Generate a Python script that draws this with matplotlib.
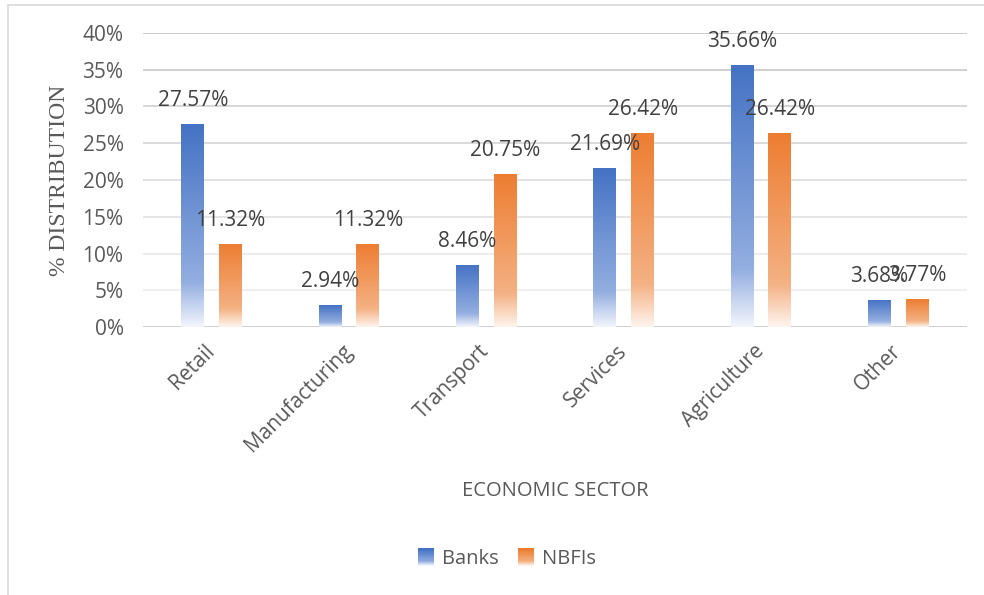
import numpy as np
import matplotlib
matplotlib.use('Agg')
import matplotlib.pyplot as plt
from matplotlib.colors import LinearSegmentedColormap
from matplotlib.patches import Rectangle
from matplotlib.legend_handler import HandlerBase

sectors = ['Retail', 'Manufacturing', 'Transport', 'Services', 'Agriculture', 'Other']
banks = [27.57, 2.94, 8.46, 21.69, 35.66, 3.68]
nbfis = [11.32, 11.32, 20.75, 26.42, 26.42, 3.77]
y_ticks = [0, 5, 10, 15, 20, 25, 30, 35, 40]

plt.rcParams['font.family'] = ['Open Sans', 'DejaVu Sans']

# bottom -> top colour stops for the faded bars
blue_cmap = LinearSegmentedColormap.from_list(
    'blue_fade', [(0.0, '#f2f5fc'), (0.22, '#93aee0'), (1.0, '#4472c4')])
orange_cmap = LinearSegmentedColormap.from_list(
    'orange_fade', [(0.0, '#fef4ee'), (0.22, '#f4b183'), (1.0, '#ed7d31')])


def fade_bars(ax, bars, cmap):
    grad = np.linspace(0, 1, 256).reshape(-1, 1)
    for b in bars:
        x0, y0 = b.get_x(), b.get_y()
        w, h = b.get_width(), b.get_height()
        im = ax.imshow(grad, cmap=cmap, origin='lower', aspect='auto',
                       extent=[x0, x0 + w, y0, y0 + h], zorder=3)
        im.set_clip_path(b)


class FadeHandler(HandlerBase):
    def __init__(self, cmap):
        super().__init__()
        self.cmap = cmap

    def create_artists(self, legend, orig_handle, xdescent, ydescent,
                       width, height, fontsize, trans):
        n = 20
        side = height
        x0 = -xdescent + (width - side) / 2
        strips = []
        for i in range(n):
            c = self.cmap(i / (n - 1))
            r = Rectangle((x0, -ydescent + side * i / n), side, side / n + 0.3,
                          facecolor=c, edgecolor='none', transform=trans)
            strips.append(r)
        return strips


fig = plt.figure(figsize=(9.84, 5.95), dpi=100)

# light frame around the chart area
fig.patches.append(Rectangle((8 / 984, -0.1), 1.2, 1 - 5 / 595 + 0.1,
                             transform=fig.transFigure, fill=False,
                             edgecolor='#d9d9d9', linewidth=1.2))

ax = fig.add_axes([143 / 984, 1 - 327 / 595, 824 / 984, 294 / 595])

x = np.arange(len(sectors))
bw = 0.167
off = 0.138

b1 = ax.bar(x - off, banks, bw, facecolor='none', edgecolor='none', zorder=3)
b2 = ax.bar(x + off, nbfis, bw, facecolor='none', edgecolor='none', zorder=3)
fade_bars(ax, b1, blue_cmap)
fade_bars(ax, b2, orange_cmap)

for bars, vals in [(b1, banks), (b2, nbfis)]:
    for b, v in zip(bars, vals):
        ax.annotate(f'{v:.2f}%', (b.get_x() + b.get_width() / 2, v),
                    xytext=(0, 18), textcoords='offset pixels',
                    ha='center', va='baseline', fontsize=15, color='#404040',
                    zorder=5)

ax.set_xlim(-0.5, len(sectors) - 0.5)
ax.set_ylim(0, 40)

# horizontal gridlines, darker towards the top
for i, t in enumerate(y_ticks):
    if t == 0:
        col = '#cccccc'
    else:
        k = (t - 5) / 35
        g = int(round(0xee - k * (0xee - 0xc8)))
        col = f'#{g:02x}{g:02x}{g:02x}'
    ax.axhline(t, color=col, linewidth=1.3, zorder=1)

for s in ax.spines.values():
    s.set_visible(False)

ax.set_yticks(y_ticks)
ax.set_yticklabels([f'{t}%' for t in y_ticks])
ax.set_xticks(x)
ax.set_xticklabels(sectors, rotation=45, ha='right', va='center',
                   rotation_mode='anchor')
ax.tick_params(axis='both', length=0, labelsize=15, colors='#595959')
ax.tick_params(axis='y', pad=14)
ax.tick_params(axis='x', pad=15)

ax.set_ylabel('% DISTRIBUTION', family='Liberation Serif', fontsize=17,
              color='#595959', labelpad=9)
ax.set_xlabel('ECONOMIC SECTOR', fontsize=14.5, color='#595959')
ax.xaxis.set_label_coords(0.5, -0.525)

leg = ax.legend([b1, b2], ['Banks', 'NBFIs'], loc='center',
                bbox_to_anchor=(507 / 984, 1 - 559 / 595),
                bbox_transform=fig.transFigure, ncol=2, frameon=False,
                fontsize=14.5, handlelength=0.75, handleheight=0.9,
                handletextpad=0.4, columnspacing=1.0,
                handler_map={b1: FadeHandler(blue_cmap),
                             b2: FadeHandler(orange_cmap)})
for t in leg.get_texts():
    t.set_color('#595959')

fig.savefig('out.png', dpi=100)
